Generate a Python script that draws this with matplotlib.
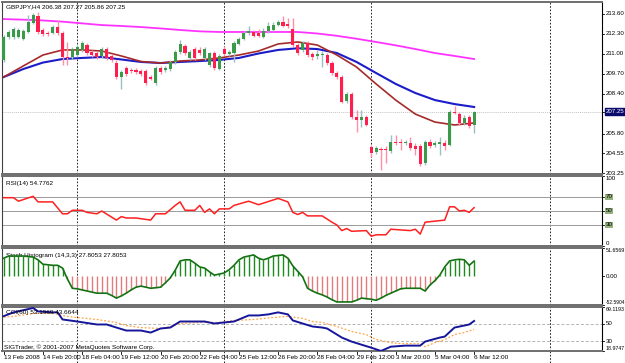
import matplotlib
matplotlib.use("Agg")
import matplotlib.pyplot as plt
import matplotlib.transforms as mtransforms
import numpy as np

plt.rcParams['font.family'] = ['Liberation Sans', 'DejaVu Sans']

# GBPJPY H4 candles (97 bars)
opens = [210.61, 212.10, 212.10, 212.10, 211.97, 212.43, 213.01, 213.47, 212.56, 212.36,
         212.36, 212.75, 212.36, 210.80, 210.80, 210.93, 211.26, 211.58, 211.13, 211.06,
         210.87, 211.32, 210.87, 210.41, 209.50, 210.09, 209.96, 209.96, 209.89, 209.89,
         209.50, 209.11, 210.09, 209.96, 210.02, 210.48, 211.13, 211.52, 210.74, 211.32,
         211.26, 210.74, 210.28, 211.06, 210.02, 211.32, 211.00, 211.06, 211.65, 211.97,
         212.36, 212.43, 212.36, 212.10, 212.49, 212.56, 212.88, 213.08, 212.95, 212.62,
         211.58, 211.26, 211.71, 211.00, 210.87, 210.93, 210.93, 210.41, 209.76, 209.50,
         207.94, 208.40, 206.90, 206.70, 206.90, 204.95, 204.62, 204.82, 204.82, 204.69,
         205.27, 205.27, 205.21, 205.21, 205.01, 205.01, 203.91, 205.27, 205.08, 205.14,
         205.21, 205.08, 207.22, 207.09, 206.51, 206.90, 206.38]
closes = [212.10, 212.43, 212.62, 212.56, 212.49, 213.08, 213.53, 212.43, 212.30, 212.30,
          212.75, 212.36, 210.80, 210.74, 211.32, 211.45, 211.71, 211.06, 210.93, 210.80,
          211.32, 210.74, 210.61, 209.50, 209.83, 209.70, 209.89, 209.83, 209.70, 209.11,
          209.37, 210.09, 209.83, 210.09, 210.48, 211.13, 211.65, 211.06, 211.13, 210.74,
          211.06, 211.32, 211.06, 210.09, 210.87, 211.00, 211.13, 211.71, 211.97, 212.36,
          212.49, 212.17, 212.17, 212.49, 212.82, 212.88, 213.08, 212.82, 212.82, 211.58,
          211.06, 211.71, 210.93, 210.80, 211.00, 211.00, 210.41, 209.76, 209.50, 207.87,
          208.40, 206.90, 206.70, 206.90, 206.38, 204.56, 204.88, 204.75, 204.75, 205.27,
          205.21, 205.21, 205.27, 204.88, 204.82, 203.84, 205.27, 205.01, 205.21, 205.27,
          205.01, 207.22, 207.16, 206.51, 206.83, 206.31, 207.25]
highs = [212.23, 212.56, 212.75, 212.69, 212.62, 213.53, 213.67, 213.73, 212.69, 212.49,
         212.88, 213.21, 212.49, 211.78, 211.45, 211.58, 211.84, 211.71, 211.26, 211.19,
         211.45, 211.45, 211.00, 210.61, 209.96, 210.22, 210.09, 210.09, 210.02, 210.02,
         209.63, 210.22, 210.22, 210.22, 210.61, 211.26, 211.91, 211.65, 211.26, 211.45,
         211.45, 211.45, 211.13, 211.19, 211.00, 211.52, 211.26, 211.84, 212.10, 212.49,
         212.82, 212.56, 212.62, 212.69, 213.08, 213.08, 213.21, 213.47, 213.34, 213.34,
         211.71, 211.84, 211.84, 211.13, 211.26, 211.19, 211.06, 210.54, 209.89, 209.63,
         208.53, 208.53, 207.35, 207.35, 207.03, 205.08, 205.01, 204.95, 205.01, 205.73,
         205.73, 205.47, 205.40, 205.60, 205.21, 205.14, 205.40, 205.47, 205.34, 205.60,
         205.40, 207.35, 207.61, 207.22, 207.03, 207.03, 207.27]
lows = [210.48, 211.97, 211.97, 212.04, 211.91, 212.36, 212.95, 212.30, 212.17, 212.17,
        212.30, 212.23, 210.28, 210.28, 210.67, 210.80, 211.13, 210.93, 210.80, 210.67,
        210.74, 210.61, 210.48, 209.37, 208.72, 209.57, 209.76, 209.70, 209.57, 208.98,
        209.31, 208.98, 209.70, 209.83, 209.89, 210.35, 211.00, 210.93, 210.61, 210.61,
        210.93, 210.61, 210.15, 209.96, 209.96, 210.87, 210.87, 210.48, 211.58, 211.91,
        212.23, 212.10, 212.10, 212.04, 212.36, 212.49, 212.82, 212.75, 212.69, 211.45,
        210.93, 211.13, 210.80, 210.61, 210.67, 210.15, 210.28, 209.63, 209.37, 207.81,
        207.81, 206.77, 205.92, 206.25, 206.31, 204.30, 204.49, 203.45, 203.91, 204.56,
        205.08, 204.75, 205.08, 204.75, 204.43, 203.71, 203.78, 204.88, 204.95, 204.43,
        204.75, 205.01, 207.09, 206.38, 206.38, 206.18, 205.86]

# moving averages, read every 4 bars
ma_bars = list(range(0, 97, 4))
ma_slow = [213.27, 213.23, 213.18, 213.10, 212.99, 212.88, 212.82, 212.75, 212.66, 212.56,
           212.47, 212.43, 212.43, 212.43, 212.43, 212.43, 212.33, 212.18, 211.99, 211.78,
           211.56, 211.32, 211.06, 210.87, 210.67]
ma_mid = [209.50, 210.02, 210.44, 210.67, 210.74, 210.80, 210.64, 210.48, 210.41, 210.48,
          210.54, 210.61, 210.74, 211.03, 211.26, 211.37, 211.32, 211.06, 210.48, 209.76,
          209.05, 208.46, 208.00, 207.74, 207.55]
ma_fast = [209.50, 210.22, 210.93, 211.26, 211.26, 211.19, 210.87, 210.51, 210.41, 210.54,
           210.61, 210.74, 210.93, 211.19, 211.65, 211.78, 211.58, 210.93, 210.15, 209.05,
           208.00, 207.09, 206.57, 206.38, 206.51]

# RSI(14)
rsi_bars = [0, 2, 3, 6, 7, 10, 12, 13, 14, 16, 17, 19, 20, 23, 24, 25, 27, 30, 31, 33,
            35, 36, 37, 39, 40, 41, 42, 43, 44, 46, 47, 50, 52, 56, 58, 59, 60, 61, 62, 65,
            67, 68, 69, 70, 71, 74, 75, 76, 78, 79, 83, 84, 85, 86, 90, 91, 92, 93, 94, 95, 96]
rsi_vals = [69, 69, 64, 71, 63, 63, 46, 46, 51, 51, 48, 46, 50, 37, 42, 40, 40, 37, 46, 46,
            58, 63, 51, 51, 58, 48, 53, 46, 53, 53, 58, 64, 59, 68, 63, 48, 45, 48, 43, 43,
            34, 30, 22, 25, 21, 22, 14, 16, 16, 24, 22, 24, 17, 34, 37, 56, 56, 50, 51, 48, 54.78]

# Stoch Histogram (14,3,3), one value per bar
stoch = [33, 37, 37, 37, 37, 36, 35, 30, 22, 21,
         20, 20, 15, -5, -22, -23, -25, -27, -29, -31,
         -31, -31, -35, -40, -36, -31, -25, -20, -18, -20,
         -22, -21, -20, -12, -3, 11, 28, 30, 30, 24,
         17, 15, 8, 2, 4, 6, 12, 20, 30, 35,
         37, 39, 33, 30, 33, 37, 38, 39, 33, 19,
         9, -1, -22, -27, -31, -34, -38, -43, -47, -47,
         -47, -47, -44, -40, -41, -42, -44, -40, -35, -31,
         -27, -23, -22, -22, -22, -22, -27, -16, -8, 2,
         17, 28, 30, 31, 30, 20, 27.8]

# lower oscillator: main line and signal
osc_bars = [0, 2, 6, 7, 10, 11, 12, 15, 19, 21, 23, 25, 28, 30, 32, 34, 36, 39, 41, 43,
            45, 47, 50, 52, 54, 56, 58, 59, 61, 63, 65, 66, 69, 71, 73, 75, 77, 79, 82, 85,
            86, 89, 90, 92, 94, 95, 96]
osc_vals = [58.7, 63.0, 68.0, 64.1, 63.0, 63.0, 54.9, 52.6, 49.2, 49.2, 45.7, 42.3, 42.3,
            40.0, 44.6, 45.7, 52.6, 52.6, 52.6, 50.3, 51.5, 52.6, 59.5, 59.5, 60.7, 63.0,
            60.7, 53.8, 50.3, 46.9, 45.7, 44.6, 34.3, 29.7, 26.2, 22.8, 19.0, 23.9, 25.1,
            25.1, 29.7, 34.3, 35.4, 45.7, 48.0, 49.2, 53.2]
sig_bars = [0, 2, 6, 10, 13, 15, 19, 23, 25, 28, 32, 34, 36, 40, 44, 47, 51, 55, 58, 61,
            63, 65, 68, 71, 74, 76, 79, 81, 85, 86, 88, 90, 92, 94, 96]
sig_vals = [57.5, 58.4, 61.8, 61.8, 58.4, 57.2, 54.9, 51.5, 48.0, 45.7, 44.6, 46.9, 50.3,
            51.5, 51.5, 53.8, 54.9, 57.2, 58.4, 56.1, 52.6, 51.5, 46.9, 41.2, 37.7, 32.0,
            28.5, 27.4, 27.4, 23.9, 28.5, 32.0, 37.7, 40.0, 43.66]

time_labels = ["13 Feb 2008", "14 Feb 20:00", "18 Feb 04:00", "19 Feb 12:00", "20 Feb 20:00",
               "22 Feb 04:00", "25 Feb 12:00", "26 Feb 20:00", "28 Feb 04:00", "29 Feb 12:00",
               "3 Mar 20:00", "5 Mar 04:00", "6 Mar 12:00"]
week_starts = [15, 45, 75, 111.4]
price_ticks = [213.60, 212.30, 211.00, 209.70, 208.40, 205.80, 204.55, 203.25]

W, H = 625, 363
fig = plt.figure(figsize=(W / 100, H / 100), dpi=100)
fig.patch.set_facecolor("white")


def px_axes(top, bottom):
    return fig.add_axes([2 / W, 1 - bottom / H, 600 / W, (bottom - top) / H])


ax1 = px_axes(2, 174)
ax2 = px_axes(176, 246)
ax3 = px_axes(248, 305)
ax4 = px_axes(307, 351)
axes = [ax1, ax2, ax3, ax4]

x = np.arange(len(opens))
xmin, xmax = -0.35, 122.1
fs = 4.6      # indicator captions / time labels
fs_r = 4.4    # right scale labels

for ax in axes:
    ax.set_xlim(xmin, xmax)
    ax.set_xticks([])
    ax.set_yticks([])
    for s in ["top", "bottom"]:
        ax.spines[s].set_color("#6e6e6e")
        ax.spines[s].set_linewidth(1.4)
    ax.spines["left"].set_color("#404040")
    ax.spines["left"].set_linewidth(0.8)
    ax.spines["right"].set_color("black")
    ax.spines["right"].set_linewidth(0.8)
    for w in week_starts:
        ax.axvline(w, color="black", lw=0.6, ls=(0, (2, 2)), zorder=1)


def rlabel(ax, y, s, va="center", box=None, color="black", size=fs_r):
    tr = mtransforms.blended_transform_factory(ax.transAxes, ax.transData)
    ax.plot([1.0, 1.004], [y, y], color="black", lw=0.6, transform=tr, clip_on=False)
    ax.text(1.006, y, s, transform=tr, fontsize=size, va=va, ha="left", color=color,
            bbox=box, clip_on=False)


# ---- main chart ----
ax1.set_ylim(203.19, 214.38)
ax1.plot(ma_bars, ma_slow, color="#ff33ff", lw=1.3, zorder=2)
ax1.plot(ma_bars, ma_mid, color="#1c1cc8", lw=1.5, zorder=2)
ax1.plot(ma_bars, ma_fast, color="#a52a2a", lw=1.2, zorder=2)
o = np.array(opens)
c = np.array(closes)
up = c >= o
wick_col = np.where(up, "#9dbfc4", "#ff8fa6")
body_col = np.where(up, "#3a9a48", "#ff1f4f")
ax1.vlines(x, lows, highs, colors=wick_col, lw=1.0, zorder=3)
body_h = np.maximum(np.abs(c - o), 0.05)
ax1.bar(x, body_h, bottom=np.minimum(o, c), width=0.62, color=body_col, lw=0, zorder=4)
ax1.axhline(closes[-1], color="#c4c4c4", lw=0.7, ls=(0, (1, 1)), zorder=1)
for p in price_ticks:
    rlabel(ax1, p, "%.2f" % p)
rlabel(ax1, closes[-1], "%.2f" % closes[-1], color="white",
       box=dict(facecolor="#0a0a6e", edgecolor="#0a0a6e", pad=0.5))
ax1.text(0.006, 0.985, "GBPJPY,H4 206.38 207.27 205.86 207.25", transform=ax1.transAxes,
         fontsize=fs, va="top", ha="left")

# ---- RSI ----
ax2.set_ylim(0, 100)
for lv in [70, 50, 30]:
    ax2.axhline(lv, color="#9a9a9a", lw=0.7, zorder=1)
    rlabel(ax2, lv, str(lv), box=dict(facecolor="#93b27c", edgecolor="none", pad=0.4))
ax2.plot(rsi_bars, rsi_vals, color="#ff2020", lw=1.1, zorder=3)
rlabel(ax2, 100, "100", va="top")
rlabel(ax2, 0, "0", va="bottom")
ax2.text(0.006, 0.93, "RSI(14) 54.7762", transform=ax2.transAxes, fontsize=fs,
         va="top", ha="left")

# ---- Stoch histogram ----
ax3.set_ylim(-52.5904, 51.6569)
st = np.array(stoch)
ax3.vlines(x, 0, st, colors=np.where(st >= 0, "#1f8a1f", "#e27c7c"), lw=1.0, zorder=2)
ax3.plot(x, st, color="#137313", lw=1.2, zorder=3)
rlabel(ax3, 51.6569, "51.6569", va="top", size=3.8)
rlabel(ax3, 0, "0.00")
rlabel(ax3, -52.5904, "-52.5904", va="bottom", size=3.5)
ax3.text(0.006, 0.92, "Stoch Histogram (14,3,3) 27.8053 27.8053", transform=ax3.transAxes,
         fontsize=fs, va="top", ha="left", zorder=1)

# ---- lower oscillator ----
ax4.set_ylim(18.9747, 69.1193)
for lv in [50, 30]:
    ax4.axhline(lv, color="#b4b4b4", lw=0.7, ls=(0, (3, 2)), zorder=1)
    rlabel(ax4, lv, str(lv))
ax4.plot(sig_bars, sig_vals, color="#ffa447", lw=0.9, ls=(0, (1.5, 1.5)), zorder=2)
ax4.plot(osc_bars, osc_vals, color="#16169a", lw=1.4, zorder=3)
rlabel(ax4, 69.1193, "69.1193", va="top", size=3.8)
rlabel(ax4, 18.9747, "18.9747", va="bottom", size=3.8)
ax4.text(0.006, 0.93, "CCI(60) 53.1969 43.6644", transform=ax4.transAxes, fontsize=fs,
         va="top", ha="left")
ax4.text(0.004, 0.03, "SIGTrader, \u00a9 2001-2007 MetaQuotes Software Corp.",
         transform=ax4.transAxes, fontsize=fs, va="bottom", ha="left")

# time axis
label_bars = list(range(0, 97, 8))
trx = mtransforms.blended_transform_factory(ax4.transData, ax4.transAxes)
for b, s in zip(label_bars, time_labels):
    ax4.plot([b, b], [0, -0.07], color="black", lw=0.6, transform=trx, clip_on=False)
    ax4.text(b, -0.09, s, transform=trx, fontsize=fs, va="top", ha="left")
for w in week_starts:
    ax4.plot([w, w], [0, -0.3], color="black", lw=0.6, ls=(0, (2, 2)), transform=trx,
             clip_on=False)

fig.savefig("out.png", dpi=100, facecolor="white")
